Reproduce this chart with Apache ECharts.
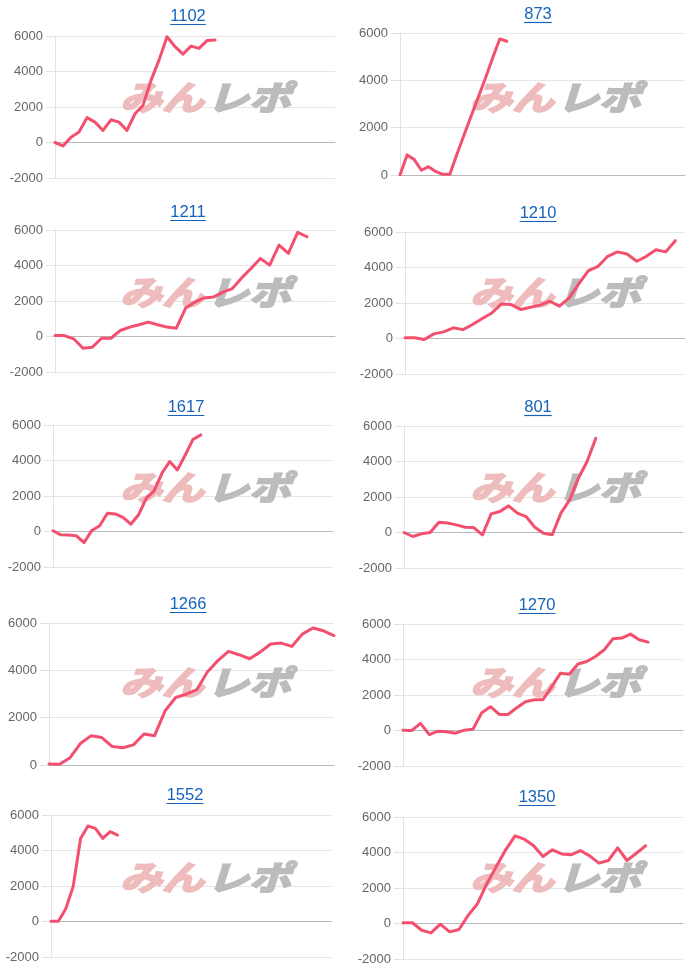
<!DOCTYPE html>
<html><head><meta charset="utf-8">
<script src="https://cdn.jsdelivr.net/npm/echarts@6/dist/echarts.min.js"></script>
<style>html,body{margin:0;padding:0;background:#fff}#c{width:700px;height:975px}</style>
</head><body><div id="c"></div>
<script>
// ---- data ----
const machineNames = ['1102','873','1211','1210','1617','801','1266','1270','1552','1350'];
const s1102 = [0,-190,300,590,1400,1150,680,1280,1150,680,1620,2090,3500,4640,5960,5400,4980,5430,5300,5740,5770];
const s873  = [0,850,650,200,350,150,30,30,890,1700,2500,3300,4100,4940,5750,5650];
const s1211 = [50,50,-130,-660,-600,-100,-100,340,530,660,810,660,530,470,1600,1940,2170,2230,2500,2700,3300,3830,4400,4020,5150,4680,5870,5620];
const s1210 = [40,40,-60,260,375,600,500,790,1130,1440,1950,1910,1630,1760,1880,2100,1820,2290,3080,3830,4070,4630,4880,4760,4350,4630,5000,4880,5510];
const s1617 = [40,-190,-200,-240,-620,60,320,1030,990,790,410,940,1880,2290,3280,3940,3470,4310,5190,5440];
const s801  = [0,-225,-75,0,580,530,430,300,280,-130,1050,1180,1500,1090,900,300,-40,-130,1090,1840,3060,4000,5310];
const s1266 = [40,30,310,920,1240,1160,780,730,850,1310,1240,2290,2850,2990,3180,3930,4410,4800,4660,4490,4770,5110,5150,5010,5530,5790,5670,5470];
const s1270 = [20,0,400,-230,-40,-75,-150,20,75,1000,1340,905,905,1280,1620,1730,1730,2470,3230,3170,3750,3890,4170,4550,5170,5210,5430,5110,4980];
const s1552 = [20,20,720,1980,4680,5380,5250,4680,5060,4870];
const s1350 = [40,40,-380,-530,-40,-470,-340,470,1130,2260,3210,4150,4940,4750,4380,3770,4150,3920,3870,4110,3810,3400,3550,4260,3550,3960,4380];
const seriesValues = [s1102,s873,s1211,s1210,s1617,s801,s1266,s1270,s1552,s1350];
const categoryCounts = [36,41,31,30,37,33,28,33,39,31];
const yMins = [-2000,0,-2000,-2000,-2000,-2000,0,-2000,-2000,-2000];
const yMax = 6000;
const yStep = 2000;

// ---- layout (styling only) ----
const grids = [
  {left:55,top:36,width:280,height:142},
  {left:400,top:33,width:285,height:142},
  {left:55,top:230,width:280,height:142},
  {left:405,top:232,width:280,height:142},
  {left:53,top:425,width:280,height:142},
  {left:404,top:426,width:279,height:142},
  {left:49,top:623,width:285,height:142},
  {left:403,top:624,width:280,height:142},
  {left:51,top:815,width:281,height:142},
  {left:403,top:817,width:280,height:142}
];
const titlePos = [[188,16],[538,14],[188,212],[538,213],[186,407],[538,407],[188,604],[537,605],[185,795],[537,797]];

const LINE = '#f2506e';
const TITLE = '#1663bd';
const FONT = '"Liberation Sans", Arial, sans-serif';
const TFONT_SIZE = 16.5;

const cv = document.createElement('canvas').getContext('2d');
cv.font = TFONT_SIZE + 'px ' + FONT;

const option = {animation:false, grid:[], xAxis:[], yAxis:[], series:[], graphic:[]};
for (let i = 0; i < 10; i++) {
  const g = grids[i];
  option.grid.push({left:g.left, top:g.top, width:g.width, height:g.height});
  const cats = [];
  for (let k = 1; k <= categoryCounts[i]; k++) cats.push(String(k));
  option.xAxis.push({type:'category', gridIndex:i, data:cats, boundaryGap:false,
    axisLabel:{show:false}, axisTick:{show:false}, splitLine:{show:false},
    axisLine:{show:true, onZero:true, lineStyle:{color:'#b9b9b9', width:1}}});
  option.yAxis.push({type:'value', gridIndex:i, min:yMins[i], max:yMax, interval:yStep,
    axisLine:{show:true, lineStyle:{color:'#e2e2e2'}},
    axisTick:{show:true, length:9, lineStyle:{color:'#e2e2e2'}},
    axisLabel:{margin:12, color:'#666', fontSize:13, fontFamily:FONT, formatter:(v) => String(v)},
    splitLine:{show:true, lineStyle:{color:'#e6e6e6', width:1}}});
  option.series.push({type:'line', xAxisIndex:i, yAxisIndex:i, data:seriesValues[i],
    symbol:'none', showSymbol:false, z:5,
    lineStyle:{color:LINE, width:3, join:'round', cap:'round'}, itemStyle:{color:LINE}});

  // title with underline
  const [cx, cy] = titlePos[i];
  const tw = cv.measureText(machineNames[i]).width;
  option.graphic.push({type:'text', x:cx, y:cy, z:10,
    style:{text:machineNames[i], fill:TITLE, font:TFONT_SIZE + 'px ' + FONT, align:'center', verticalAlign:'middle'}});
  option.graphic.push({type:'line', z:10, shape:{x1:cx - tw/2, y1:cy + 8.5, x2:cx + tw/2, y2:cy + 8.5},
    style:{stroke:TITLE, lineWidth:1.2}});

  // watermark
  const ox = (i % 2) * 350, oy = Math.floor(i / 2) * 195;
  option.graphic.push({type:'text', x:ox + 120, y:oy + 97, z:1, scaleY:0.8, silent:true,
    style:{text:'みん', fill:'#eebcbc', stroke:'#eebcbc', lineWidth:2.5, font:'italic bold 42px "Noto Sans CJK JP"', align:'left', verticalAlign:'middle'}});
  option.graphic.push({type:'text', x:ox + 207, y:oy + 97, z:1, scaleY:0.8, silent:true,
    style:{text:'レポ', fill:'#bcbcbc', stroke:'#bcbcbc', lineWidth:2.5, font:'italic bold 42px "Noto Sans CJK JP"', align:'left', verticalAlign:'middle'}});
}

const chart = echarts.init(document.getElementById('c'), null, {renderer:'canvas'});
chart.setOption(option);
</script>
</body></html>
